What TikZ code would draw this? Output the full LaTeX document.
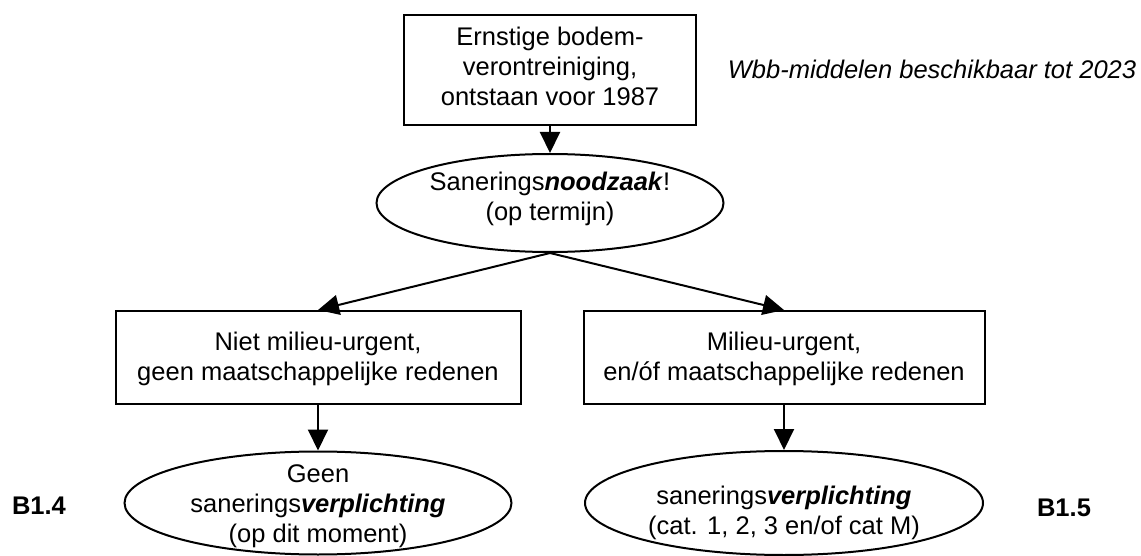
\documentclass[tikz,border=0pt]{standalone}
\usepackage{fontspec}
\setmainfont{Liberation Sans}
\usetikzlibrary{arrows.meta,shapes.geometric}
\begin{document}
\begin{tikzpicture}[x=1pt,y=-1pt,
  box/.style={draw, line width=2pt, rectangle, inner sep=0pt},
  ell/.style={draw, line width=2pt, ellipse, inner sep=0pt},
  txt/.style={align=center, font=\fontsize{25.5}{30}\selectfont, inner sep=0pt},
  arr/.style={line width=2pt, -{Triangle[length=21pt,width=20pt]}}]
\useasboundingbox (0,0) rectangle (1141,556);
% shapes
\node[box, minimum width=292pt, minimum height=110pt] (b1) at (550,70) {};
\node[ell, minimum width=347pt, minimum height=98pt] (e1) at (550,203) {};
\node[box, minimum width=405pt, minimum height=93pt] (b2) at (318,357.5) {};
\node[box, minimum width=401pt, minimum height=93pt] (b3) at (784,357.5) {};
\node[ell, minimum width=387pt, minimum height=103pt] (e2) at (318,503) {};
\node[ell, minimum width=398pt, minimum height=104pt] (e3) at (784,503) {};
% texts
\node[txt] (t1) at (550,66) {Ernstige bodem-\\verontreiniging,\\ontstaan voor 1987};
\node[txt] (t2) at (550,199) {Sanerings\textbf{\textit{noodzaak}}!\\(op termijn)};
\node[txt] (t3) at (318,359) {Niet milieu-urgent,\\geen maatschappelijke redenen};
\node[txt] (t4) at (784,359) {Milieu-urgent,\\en/óf maatschappelijke redenen};
\node[txt] (t5) at (318,506) {Geen\\sanerings\textbf{\textit{verplichting}}\\(op dit moment)};
\node[txt] (t6) at (784,513) {sanerings\textbf{\textit{verplichting}}\\(cat. 1, 2, 3 en/of cat M)};
\node[txt, anchor=base, font=\fontsize{25.5}{30}\selectfont\itshape] (note) at (932,79) {Wbb-middelen beschikbaar tot 2023};
\node[txt, font=\fontsize{25.5}{30}\selectfont\bfseries] (l14) at (39,506) {B1.4};
\node[txt, font=\fontsize{25.5}{30}\selectfont\bfseries] (l15) at (1064,508) {B1.5};
% connectors
\draw[arr] (b1.south) -- (e1.north);
\draw[arr] (e1.south) -- (b2.north);
\draw[arr] (e1.south) -- (b3.north);
\draw[arr] (b2.south) -- (e2.north);
\draw[arr] (b3.south) -- (e3.north);
\end{tikzpicture}
\end{document}
